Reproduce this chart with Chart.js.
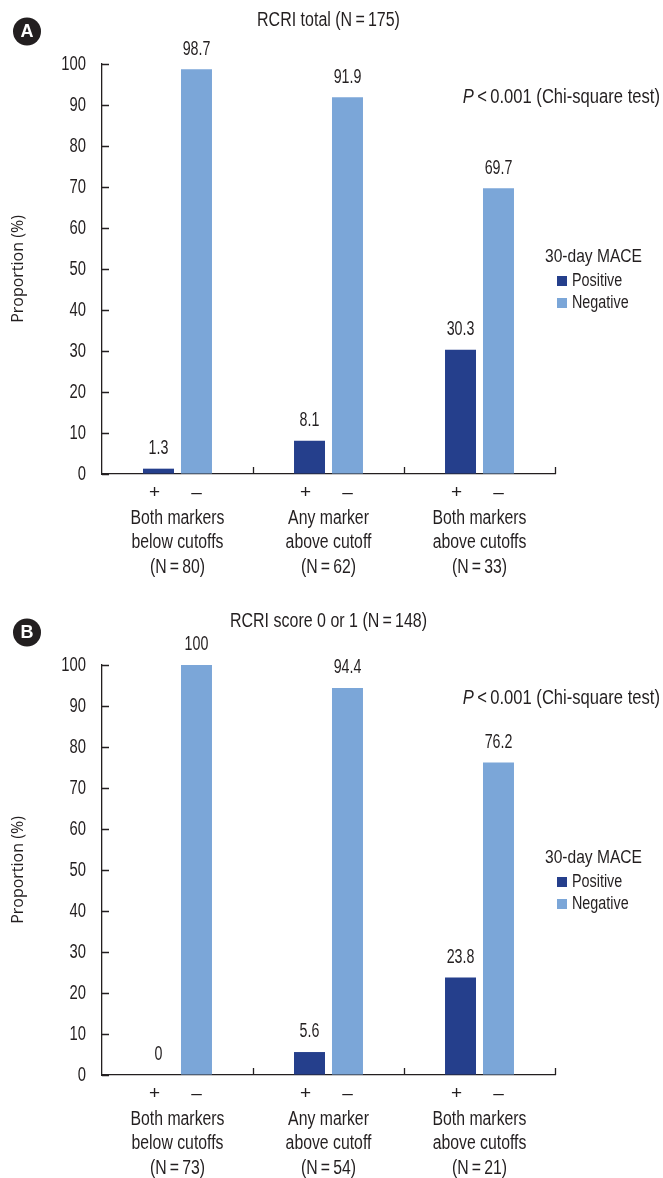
<!DOCTYPE html>
<html>
<head>
<meta charset="utf-8">
<script src="https://cdn.jsdelivr.net/npm/chart.js@4/dist/chart.umd.min.js"></script>
<style>
  html, body { margin: 0; padding: 0; background: #fff; }
  #wrap { position: relative; width: 663px; height: 1178px; }
  canvas { position: absolute; left: 0; }
  #chartA { top: 0; }
  #chartB { top: 601px; }
</style>
</head>
<body>
<div id="wrap">
  <canvas id="chartA" width="663" height="590"></canvas>
  <canvas id="chartB" width="663" height="577"></canvas>
</div>
<script>
// data
const groupNames = [
  ["Both markers", "below cutoffs"],
  ["Any marker", "above cutoff"],
  ["Both markers", "above cutoffs"]
];
const seriesNames = ["Positive", "Negative"];
const signs = ["+", "\u2013"];

const titleA = "RCRI total (N\u2009=\u2009175)";
const countsA = [80, 62, 33];
const positiveA = [1.3, 8.1, 30.3];
const negativeA = [98.7, 91.9, 69.7];

const titleB = "RCRI score 0 or 1 (N\u2009=\u2009148)";
const countsB = [73, 54, 21];
const positiveB = [0, 5.6, 23.8];
const negativeB = [100, 94.4, 76.2];

const legendTitle = "30-day MACE";
const pText = "\u2009<\u20090.001 (Chi-square test)";

const INK = "#231f20";
const colors = ["#253f8c", "#7ba6d8"];
const FAMILY = '"Liberation Sans", Arial, sans-serif';

// the original uses a condensed face, so squeeze Liberation Sans sideways
function narrow(ctx, text, x, y, size, squeeze, align, style) {
  ctx.save();
  ctx.font = (style || "") + " " + size + "px " + FAMILY;
  ctx.textAlign = align || "center";
  ctx.textBaseline = "middle";
  ctx.translate(x, y);
  ctx.scale(squeeze, 1);
  ctx.fillText(text, 0, 0);
  ctx.restore();
}
function narrowWidth(ctx, text, size, squeeze, style) {
  ctx.save();
  ctx.font = (style || "") + " " + size + "px " + FAMILY;
  const w = ctx.measureText(text).width * squeeze;
  ctx.restore();
  return w;
}

const decor = {
  id: "decor",
  afterDraw(chart, args, opts) {
    const ctx = chart.ctx;
    const area = chart.chartArea;
    const xs = chart.scales.x, ys = chart.scales.y;
    ctx.save();
    ctx.fillStyle = INK;
    ctx.strokeStyle = INK;

    // panel badge
    ctx.beginPath();
    ctx.arc(27, 31.5, 14, 0, Math.PI * 2);
    ctx.fill();
    ctx.fillStyle = "#fff";
    ctx.font = "bold 18px " + FAMILY;
    ctx.textAlign = "center";
    ctx.textBaseline = "middle";
    ctx.fillText(opts.badge, 27, 32.5);
    ctx.fillStyle = INK;

    // title
    narrow(ctx, opts.title, (area.left + area.right) / 2, 20, 20, 0.8);

    // P value with italic P
    const restW = narrowWidth(ctx, pText, 20.5, 0.81);
    const pW = narrowWidth(ctx, "P", 20.5, 0.81, "italic");
    const x0 = 660 - restW - pW;
    narrow(ctx, "P", x0, 97, 20.5, 0.81, "left", "italic");
    narrow(ctx, pText, x0 + pW, 97, 20.5, 0.81, "left");

    // y tick labels and inward ticks
    ctx.lineWidth = 1.3;
    ctx.beginPath();
    ys.ticks.forEach(t => {
      const y = ys.getPixelForValue(t.value);
      narrow(ctx, String(t.value), area.left - 16, y, 20, 0.74, "right");
      const yy = Math.round(y) + 0.5;
      ctx.moveTo(area.left, yy);
      ctx.lineTo(area.left + 7, yy);
    });
    // category separators on x and category labels
    const n = chart.data.labels.length;
    for (let i = 0; i < n; i++) {
      let x = i < n - 1
        ? (xs.getPixelForValue(i) + xs.getPixelForValue(i + 1)) / 2
        : area.right;
      x = Math.round(x) + 0.5;
      ctx.moveTo(x, area.bottom);
      ctx.lineTo(x, area.bottom - 7);
      const cx = xs.getPixelForValue(i);
      chart.data.labels[i].forEach((line, li) => {
        narrow(ctx, line, cx, area.bottom + 44 + li * 24.5, 20, 0.79);
      });
    }
    ctx.stroke();

    // value labels and +/- signs
    chart.data.datasets.forEach((ds, di) => {
      chart.getDatasetMeta(di).data.forEach((el, i) => {
        narrow(ctx, String(ds.data[i]), el.x, el.y - 20, 19.5, 0.73);
        narrow(ctx, signs[di], el.x + (di === 0 ? -4 : 0), area.bottom + 19, 19, 1);
      });
    });

    // legend
    narrow(ctx, legendTitle, 545, 257, 19, 0.82, "left");
    chart.data.datasets.forEach((ds, di) => {
      const cy = 281 + di * 22;
      ctx.fillStyle = ds.backgroundColor;
      ctx.fillRect(557, cy - 5, 10, 10);
      ctx.fillStyle = INK;
      narrow(ctx, ds.label, 572, cy, 17.5, 0.82, "left");
    });
    ctx.restore();
  }
};

function makeChart(id, badge, title, counts, pos, neg, height) {
  const labels = groupNames.map((g, i) => [g[0], g[1], "(N\u2009=\u2009" + counts[i] + ")"]);
  return new Chart(document.getElementById(id), {
    type: "bar",
    data: {
      labels,
      datasets: [
        { label: seriesNames[0], data: pos, backgroundColor: colors[0] },
        { label: seriesNames[1], data: neg, backgroundColor: colors[1] }
      ]
    },
    options: {
      responsive: false,
      animation: false,
      devicePixelRatio: 1,
      categoryPercentage: 0.503,
      barPercentage: 0.816,
      layout: { padding: { top: 64, right: 108, left: 0, bottom: 0 } },
      plugins: {
        legend: { display: false },
        tooltip: { enabled: false },
        decor: { badge, title }
      },
      scales: {
        x: {
          grid: { display: false },
          border: { display: true, color: INK, width: 1.3 },
          ticks: { display: false },
          afterFit: s => { s.height = height - 474; }
        },
        y: {
          min: 0,
          max: 100,
          grid: { drawOnChartArea: false, drawTicks: false },
          border: { display: true, color: INK, width: 1.3 },
          ticks: { stepSize: 10, display: false },
          title: {
            display: true,
            text: "Proportion (%)",
            color: INK,
            font: { family: '"Open Sans", sans-serif', size: 16 },
            padding: { top: 9, bottom: 0 }
          },
          afterFit: s => { s.width = 102; }
        }
      }
    },
    plugins: [decor]
  });
}

makeChart("chartA", "A", titleA, countsA, positiveA, negativeA, 590);
makeChart("chartB", "B", titleB, countsB, positiveB, negativeB, 577);
</script>
</body>
</html>
